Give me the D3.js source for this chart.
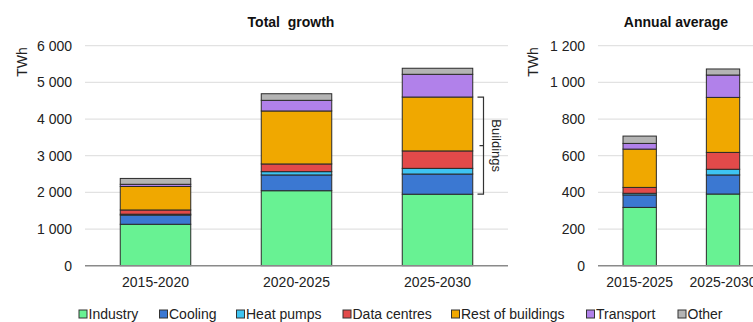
<!DOCTYPE html>
<html>
<head>
<meta charset="utf-8">
<script src="https://cdn.jsdelivr.net/npm/d3@7"></script>
<style>
  body { margin: 0; background: #fff; }
  svg { font-family: "Liberation Sans", Arial, sans-serif; }
</style>
</head>
<body>
<svg id="chart" width="753" height="322"></svg>
<script>
// series + colours
var series = ["Industry", "Cooling", "Heat pumps", "Data centres", "Rest of buildings", "Transport", "Other"];
var colors = ["#68f293", "#3b78d2", "#3ec4f2", "#e24a4a", "#f0a800", "#b181ea", "#b4b4b4"];

// left panel: total growth (TWh)
var totalCats = ["2015-2020", "2020-2025", "2025-2030"];
var industryTotal    = [1130, 2045, 1950];
var coolingTotal     = [250, 430, 550];
var heatPumpsTotal   = [25, 90, 155];
var dataCentresTotal = [115, 210, 475];
var restTotal        = [640, 1445, 1470];
var transportTotal   = [60, 290, 620];
var otherTotal       = [160, 180, 165];
var totalTicks = [0, 1000, 2000, 3000, 4000, 5000, 6000];

// right panel: annual average (TWh)
var avgCats = ["2015-2025", "2025-2030"];
var industryAvg    = [318, 391];
var coolingAvg     = [68, 104];
var heatPumpsAvg   = [9, 31];
var dataCentresAvg = [32, 92];
var restAvg        = [209, 300];
var transportAvg   = [31, 122];
var otherAvg       = [40, 33];
var avgTicks = [0, 200, 400, 600, 800, 1000, 1200];

function rows(cats, cols) {
  return cats.map(function (c, i) {
    var r = { cat: c };
    series.forEach(function (s, k) { r[s] = cols[k][i]; });
    return r;
  });
}

var svg = d3.select("#chart");
var fmt = function (d) { return d3.format(",")(d).replace(/,/g, " "); };
var y0 = 265.7, yTop = 45.7;
var FS = 14;

function panel(opt) {
  var data = rows(opt.cats, opt.cols);
  var x = d3.scaleBand().domain(opt.cats).range([opt.x0, opt.x1]).paddingInner(opt.pad).paddingOuter(opt.pad / 2);
  var y = d3.scaleLinear().domain([0, opt.max]).range([y0, yTop]);
  var g = svg.append("g");

  // grid
  g.selectAll(".grid").data(opt.ticks.slice(1)).enter().append("line")
    .attr("x1", opt.x0).attr("x2", opt.gridEnd)
    .attr("y1", function (d) { return y(d); }).attr("y2", function (d) { return y(d); })
    .attr("stroke", "#e2e2e2").attr("stroke-width", 1.2);

  // y labels
  var yAxis = d3.axisLeft(y).tickValues(opt.ticks).tickFormat(fmt).tickSize(0).tickPadding(0);
  var ya = g.append("g").attr("transform", "translate(" + opt.labelX + ",0)").call(yAxis);
  ya.select(".domain").remove();
  ya.selectAll("text").attr("font-size", FS).attr("fill", "#222").attr("font-family", "Liberation Sans, Arial, sans-serif");

  // stacked bars
  var stack = d3.stack().keys(series)(data);
  g.selectAll(".layer").data(stack).enter().append("g")
    .attr("fill", function (d, i) { return colors[i]; })
    .selectAll("rect").data(function (d) { return d; }).enter().append("rect")
      .attr("x", function (d) { return x(d.data.cat); })
      .attr("width", x.bandwidth())
      .attr("y", function (d) { return y(d[1]); })
      .attr("height", function (d) { return y(d[0]) - y(d[1]); })
      .attr("stroke", "#2a2a2a").attr("stroke-width", 1);

  // baseline
  g.append("line").attr("x1", opt.x0).attr("x2", opt.gridEnd).attr("y1", y0).attr("y2", y0)
    .attr("stroke", "#8a8a8a").attr("stroke-width", 1.6);

  // x labels
  var xa = g.append("g").attr("transform", "translate(0," + y0 + ")")
    .call(d3.axisBottom(x).tickSize(0).tickPadding(11));
  xa.select(".domain").remove();
  xa.selectAll("text").attr("font-size", FS).attr("fill", "#222").attr("font-family", "Liberation Sans, Arial, sans-serif");

  // title + unit
  g.append("text").attr("x", opt.titleX).attr("y", 27).attr("text-anchor", "middle")
    .attr("font-size", FS).attr("font-weight", "bold").attr("fill", "#111")
    .attr("xml:space", "preserve").text(opt.title);
  g.append("text").attr("transform", "translate(" + (opt.unitX) + ",62) rotate(-90)")
    .attr("text-anchor", "middle").attr("font-size", FS).attr("fill", "#222").text("TWh");
  return { x: x, y: y };
}

var left = panel({
  cats: totalCats,
  cols: [industryTotal, coolingTotal, heatPumpsTotal, dataCentresTotal, restTotal, transportTotal, otherTotal],
  ticks: totalTicks, max: 6000, x0: 85, x1: 508, gridEnd: 508, pad: 0.5,
  labelX: 72, title: "Total  growth", titleX: 291, unitX: 27
});

panel({
  cats: avgCats,
  cols: [industryAvg, coolingAvg, heatPumpsAvg, dataCentresAvg, restAvg, transportAvg, otherAvg],
  ticks: avgTicks, max: 1200, x0: 598, x1: 764.7, gridEnd: 764.7, pad: 0.6,
  labelX: 585, title: "Annual average", titleX: 676, unitX: 538
});

// "Buildings" bracket on the 2025-2030 bar
var bTop = left.y(industryTotal[2] + coolingTotal[2] + heatPumpsTotal[2] + dataCentresTotal[2] + restTotal[2]);
var bBot = left.y(industryTotal[2]);
var bx = 483.5;
svg.append("path")
  .attr("d", "M" + (bx - 6) + "," + bTop + " H" + bx + " V" + bBot + " H" + (bx - 6) +
             " M" + bx + "," + ((bTop + bBot) / 2) + " H" + (bx - 4))
  .attr("fill", "none").attr("stroke", "#333").attr("stroke-width", 1.2);
svg.append("text").attr("transform", "translate(492," + ((bTop + bBot) / 2) + ") rotate(90)")
  .attr("text-anchor", "middle").attr("font-size", 13).attr("fill", "#222").text("Buildings");

// legend
var legX = [79, 159.5, 236.5, 343, 451.5, 586.5, 678];
var leg = svg.append("g").selectAll("g").data(series).enter().append("g")
  .attr("transform", function (d, i) { return "translate(" + legX[i] + ",308)"; });
leg.append("rect").attr("width", 8).attr("height", 8).attr("y", 2)
  .attr("fill", function (d, i) { return colors[i]; }).attr("stroke", "#333").attr("stroke-width", 1);
leg.append("text").attr("x", 9.5).attr("y", 11).attr("font-size", FS).attr("fill", "#222").text(function (d) { return d; });
</script>
</body>
</html>
